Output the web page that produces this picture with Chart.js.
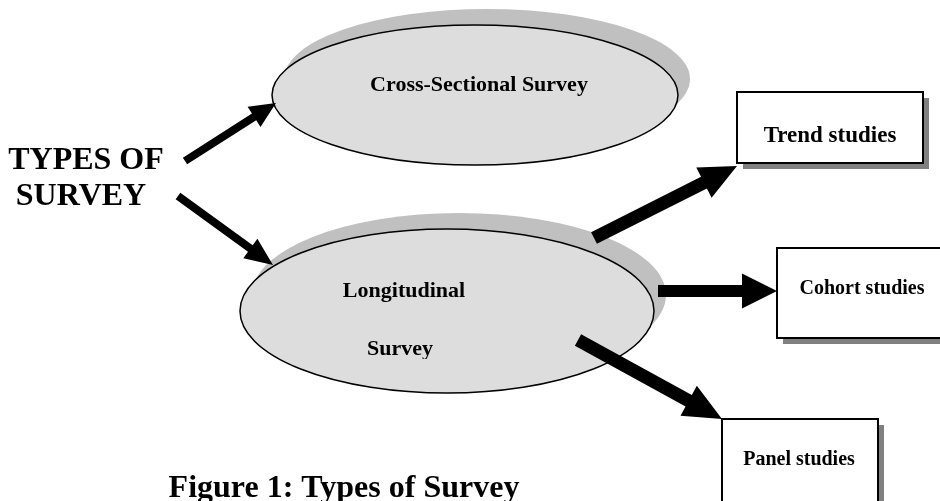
<!DOCTYPE html>
<html>
<head>
<meta charset="utf-8">
<script src="https://cdn.jsdelivr.net/npm/chart.js@4"></script>
<style>
  html, body { margin: 0; padding: 0; background: #ffffff; }
  #diagrama { display: block; }
</style>
</head>
<body>
<canvas id="diagrama" width="940" height="501"></canvas>
<script>

// Textos do diagrama
const titleLines = ['TYPES OF', 'SURVEY'];
const ovalLabels = [['Cross-Sectional Survey'], ['Longitudinal', 'Survey']];
const boxLabels = ['Trend studies', 'Cohort studies', 'Panel studies'];
const caption = 'Figure 1: Types of Survey';

// Layout (unidades da escala = px do desenho)
const ovalCx = [475, 447];
const ovalCy = [95, 311];
const ovalRx = [203, 207];
const ovalRy = [70, 82];
const ovalTextY = [[85], [291, 349]];
const ovalTextX = [[479], [404, 400]];

const boxLeft = [737, 777, 722];
const boxTop = [92, 248, 419];
const boxRight = [923, 942, 878];
const boxBottom = [163, 338, 510];
const boxTextX = [830, 862, 799];
const boxTextY = [136, 289, 460];
const boxFont = [23, 20, 20];

// setas: cauda -> ponta
const arrowFromX = [185, 178, 594, 658, 578];
const arrowFromY = [161, 196, 238, 291, 340];
const arrowToX = [276, 273, 737, 777, 722];
const arrowToY = [103, 265, 166, 291, 419];
const arrowShaft = [8, 8, 13, 12, 13];
const arrowHead = [26, 28, 37, 35, 38];
const arrowHeadW = [24, 24, 34, 35, 34];

const serif = '"Liberation Serif", "Times New Roman", serif';

const desenho = {
  id: 'desenho',
  afterDraw(chart) {
    const ctx = chart.ctx;
    const sx = v => chart.scales.x.getPixelForValue(v);
    const sy = v => chart.scales.y.getPixelForValue(v);

    ctx.save();
    ctx.textAlign = 'center';
    ctx.textBaseline = 'middle';

    // ovais com sombra
    for (let i = 0; i < ovalCx.length; i++) {
      const cx = sx(ovalCx[i]), cy = sy(ovalCy[i]);
      const rx = sx(ovalCx[i] + ovalRx[i]) - cx;
      const ry = Math.abs(sy(ovalCy[i] + ovalRy[i]) - cy);
      ctx.fillStyle = '#c0c0c0';
      ctx.beginPath();
      ctx.ellipse(cx + 12, cy - 16, rx, ry, 0, 0, Math.PI * 2);
      ctx.fill();
      ctx.fillStyle = '#dddddd';
      ctx.strokeStyle = '#000000';
      ctx.lineWidth = 1.5;
      ctx.beginPath();
      ctx.ellipse(cx, cy, rx, ry, 0, 0, Math.PI * 2);
      ctx.fill();
      ctx.stroke();
    }

    // textos das ovais
    ctx.fillStyle = '#000000';
    ctx.font = 'bold 22px ' + serif;
    for (let i = 0; i < ovalLabels.length; i++) {
      for (let j = 0; j < ovalLabels[i].length; j++) {
        ctx.save();
        if (i == 1 && j == 1) {
          // caixa de texto corta o "y"
          ctx.beginPath();
          ctx.rect(0, 0, 940, sy(359));
          ctx.clip();
        }
        ctx.fillText(ovalLabels[i][j], sx(ovalTextX[i][j]), sy(ovalTextY[i][j]));
        ctx.restore();
      }
    }

    // caixas
    for (let i = 0; i < boxLabels.length; i++) {
      const l = sx(boxLeft[i]), t = sy(boxTop[i]);
      const w = sx(boxRight[i]) - l, h = sy(boxBottom[i]) - t;
      ctx.fillStyle = '#808080';
      ctx.fillRect(l + 6, t + 6, w, h);
      ctx.fillStyle = '#ffffff';
      ctx.fillRect(l, t, w, h);
      ctx.strokeStyle = '#000000';
      ctx.lineWidth = 2;
      ctx.strokeRect(l, t, w, h);
      ctx.fillStyle = '#000000';
      ctx.font = 'bold ' + boxFont[i] + 'px ' + serif;
      ctx.fillText(boxLabels[i], sx(boxTextX[i]), sy(boxTextY[i]));
    }

    // setas
    ctx.fillStyle = '#000000';
    for (let i = 0; i < arrowFromX.length; i++) {
      const x0 = sx(arrowFromX[i]), y0 = sy(arrowFromY[i]);
      const x1 = sx(arrowToX[i]), y1 = sy(arrowToY[i]);
      const len = Math.hypot(x1 - x0, y1 - y0);
      const dx = (x1 - x0) / len, dy = (y1 - y0) / len;
      const nx = -dy, ny = dx;
      const bx = x1 - dx * arrowHead[i], by = y1 - dy * arrowHead[i];
      const s = arrowShaft[i] / 2, hw = arrowHeadW[i] / 2;
      ctx.beginPath();
      ctx.moveTo(x0 + nx * s, y0 + ny * s);
      ctx.lineTo(bx + nx * s, by + ny * s);
      ctx.lineTo(bx + nx * hw, by + ny * hw);
      ctx.lineTo(x1, y1);
      ctx.lineTo(bx - nx * hw, by - ny * hw);
      ctx.lineTo(bx - nx * s, by - ny * s);
      ctx.lineTo(x0 - nx * s, y0 - ny * s);
      ctx.closePath();
      ctx.fill();
    }

    // titulo da esquerda
    ctx.font = 'bold 32px ' + serif;
    ctx.textBaseline = 'alphabetic';
    ctx.fillText(titleLines[0], sx(86), sy(169));
    ctx.fillText(titleLines[1], sx(81), sy(205));

    // legenda da figura
    ctx.fillText(caption, sx(344), sy(497));

    ctx.restore();
  }
};

new Chart(document.getElementById('diagrama'), {
  type: 'scatter',
  data: { datasets: [{ data: [], showLine: false }] },
  options: {
    responsive: false,
    animation: false,
    layout: { padding: 0 },
    plugins: { legend: { display: false }, tooltip: { enabled: false } },
    scales: {
      x: { type: 'linear', min: 0, max: 940, display: false },
      y: { type: 'linear', min: 0, max: 501, reverse: true, display: false }
    }
  },
  plugins: [desenho]
});
</script>
</body>
</html>
